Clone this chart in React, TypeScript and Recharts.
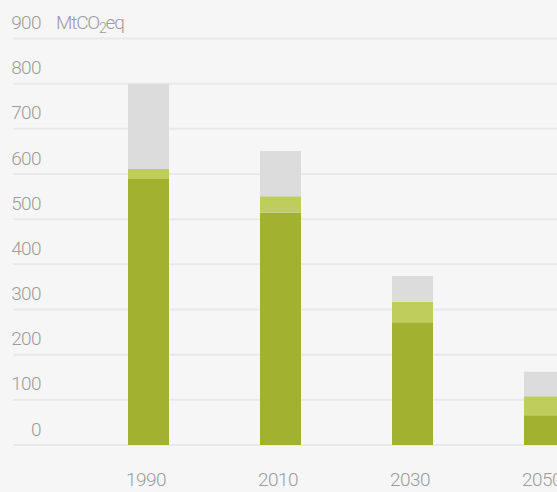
import React from "react";
import { BarChart, Bar, XAxis, YAxis, CartesianGrid } from "recharts";

// values in MtCO2eq
const YEARS = ["1990", "2010", "2030", "2050"];
const BASE = [589, 514, 272, 66];
const EXTRA = [22, 37, 45, 42];
const REST = [189, 100, 57, 54];
const Y_TICKS = [0, 100, 200, 300, 400, 500, 600, 700, 800, 900];

const TEXT = "#9c9c9c";
const FONT = "Roboto, sans-serif";

const data = YEARS.map((year, i) => ({
  year,
  base: BASE[i],
  extra: EXTRA[i],
  rest: REST[i],
}));

const YTick = ({ y, payload }: any) => (
  <g>
    <text
      x={41}
      y={y - 9.5}
      textAnchor="end"
      fill={TEXT}
      fontFamily={FONT}
      fontWeight={300}
      fontSize={19}
      letterSpacing={-0.6}
    >
      {payload.value}
    </text>
    {payload.value === 900 && (
      <text
        x={56}
        y={y - 9.5}
        fill={TEXT}
        fontFamily={FONT}
        fontWeight={300}
        fontSize={19}
        letterSpacing={-1.2}
      >
        MtCO
        <tspan fontSize={14} dy={4}>
          2
        </tspan>
        <tspan dy={-4}>eq</tspan>
      </text>
    )}
  </g>
);

const XTick = ({ x, y, payload }: any) => (
  <text
    x={x - 2}
    y={y + 41}
    textAnchor="middle"
    fill={TEXT}
    fontFamily={FONT}
    fontWeight={300}
    fontSize={19}
    letterSpacing={-0.6}
  >
    {payload.value}
  </text>
);

export default function App() {
  return (
    <div
      style={{
        position: "absolute",
        left: 0,
        top: 0,
        width: 557,
        height: 492,
        overflow: "hidden",
        background: "#f6f6f6",
      }}
    >
      <BarChart
        width={610}
        height={492}
        data={data}
        margin={{ top: 38.5, right: 0, bottom: 0, left: 0 }}
      >
        <CartesianGrid
          vertical={false}
          stroke="#e9e9e9"
          strokeWidth={2}
        />
        <XAxis
          dataKey="year"
          height={47}
          axisLine={false}
          tickLine={false}
          tickSize={0}
          tickMargin={0}
          padding={{ left: 69, right: 0 }}
          tick={<XTick />}
          interval={0}
        />
        <YAxis
          width={13}
          domain={[0, 900]}
          ticks={Y_TICKS}
          axisLine={false}
          tickLine={false}
          tick={<YTick />}
          interval={0}
        />
        <Bar dataKey="base" stackId="a" fill="#a2b130" barSize={41} isAnimationActive={false} />
        <Bar dataKey="extra" stackId="a" fill="#bfcd5c" barSize={41} isAnimationActive={false} />
        <Bar dataKey="rest" stackId="a" fill="#dcdcdc" barSize={41} isAnimationActive={false} />
      </BarChart>
    </div>
  );
}
